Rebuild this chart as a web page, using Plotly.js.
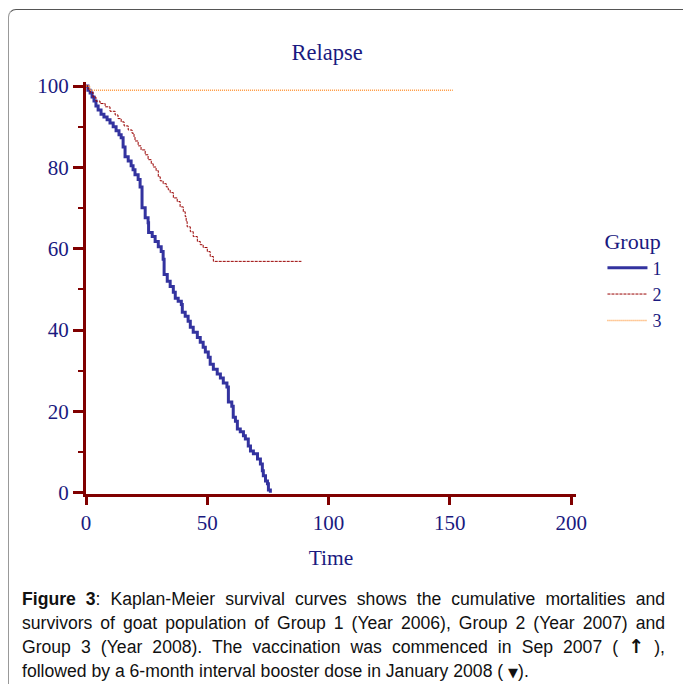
<!DOCTYPE html>
<html>
<head>
<meta charset="utf-8">
<script src="https://cdn.plot.ly/plotly-3.0.1.min.js"></script>
<style>
  html, body { margin: 0; padding: 0; background: #fff; }
  #wrap { position: relative; width: 683px; height: 684px; overflow: hidden; background: #fff; }
  #frame { position: absolute; left: 8px; top: 9px; width: 720px; height: 720px;
           border-top: 1px solid #555; border-left: 1.5px solid #999; border-top-left-radius: 8px; }
  #plot { position: absolute; left: 0; top: 0; width: 683px; height: 684px; }
  #caption { position: absolute; left: 22px; top: 587px; width: 643px;
             font-family: "Liberation Sans", Arial, sans-serif; font-size: 17.6px; color: #111; }
  #caption .ln { height: 24px; line-height: 24px; white-space: nowrap; }
  #caption .j { text-align: justify; text-align-last: justify; }
  .arr { font-family: "DejaVu Sans", sans-serif; font-weight: bold; font-size: 19px; line-height: 10px; }
  .tri { font-family: "DejaVu Sans", sans-serif; font-size: 13px; }
</style>
</head>
<body>
<div id="wrap">
  <div id="frame"></div>
  <div id="plot"></div>
  <div id="caption">
    <div class="ln j"><b>Figure 3</b>: Kaplan-Meier survival curves shows the cumulative mortalities and</div>
    <div class="ln j">survivors of goat population of Group 1 (Year 2006), Group 2 (Year 2007) and</div>
    <div class="ln j">Group 3 (Year 2008). The vaccination was commenced in Sep 2007 ( <span class="arr">&#x2191;</span> ),</div>
    <div class="ln">followed by a 6-month interval booster dose in January 2008 ( <span class="tri">&#x25BC;</span>).</div>
  </div>
</div>
<script>
// Group 1 (step times and survival %)
const g1Time = [0, 0.8, 1.7, 2.5, 3.3, 4.1, 5.0, 6.2, 7.4, 8.7, 9.9, 11.2, 12.4, 13.6, 14.5, 15.3, 16.1, 17.4, 18.6, 19.4, 20.2, 21.5, 22.3, 23.1, 24.4, 25.6, 25.8, 27.3, 28.5, 29.8, 31.0, 31.8, 32.2, 33.5, 34.7, 36.0, 36.8, 38.0, 39.3, 39.7, 40.9, 42.1, 43.0, 44.2, 45.9, 47.1, 48.3, 49.2, 50.4, 51.2, 52.5, 54.1, 55.4, 56.6, 58.1, 58.7, 60.1, 60.7, 61.6, 62.4, 63.6, 64.9, 65.7, 66.9, 67.8, 69.0, 70.7, 71.9, 72.7, 73.1, 74.0, 74.8, 75.2, 76.0];
const g1Surv = [100, 99.0, 98.3, 97.3, 96.3, 95.1, 94.1, 93.1, 92.4, 91.7, 90.9, 90.0, 89.0, 88.0, 87.3, 85.0, 82.6, 81.6, 80.4, 79.4, 78.2, 77.0, 75.2, 70.1, 67.6, 66.4, 64.0, 63.0, 61.8, 60.5, 59.3, 57.4, 53.7, 52.0, 50.7, 49.3, 47.8, 47.1, 46.3, 44.4, 43.4, 42.2, 40.7, 39.5, 38.2, 37.0, 35.8, 34.6, 33.3, 31.6, 30.4, 29.2, 28.2, 27.0, 26.0, 22.3, 21.3, 18.6, 17.6, 15.7, 15.0, 14.0, 13.2, 11.5, 10.3, 9.6, 8.3, 7.1, 5.4, 4.2, 2.9, 2.2, 0.7, 0];

// Group 2
const g2Time = [0, 0.8, 1.7, 2.9, 4.1, 5.8, 7.9, 9.9, 12.0, 13.2, 14.5, 15.7, 17.4, 19.0, 19.8, 20.2, 21.5, 22.7, 24.4, 25.6, 26.9, 27.7, 28.9, 29.8, 30.6, 31.8, 33.1, 33.9, 34.7, 36.0, 37.6, 38.8, 40.1, 40.9, 41.3, 41.7, 43.0, 44.2, 45.9, 47.1, 48.3, 50.0, 51.2, 52.5, 88.8];
const g2Surv = [100, 99.3, 98.5, 97.3, 96.3, 95.7, 94.9, 93.8, 92.9, 92.0, 91.2, 90.2, 89.2, 88.4, 87.5, 86.5, 85.3, 84.3, 83.1, 81.9, 80.9, 80.1, 79.2, 77.7, 76.7, 76.0, 75.2, 74.5, 73.8, 72.5, 71.6, 70.3, 69.1, 67.9, 66.7, 65.4, 64.2, 63.0, 61.8, 61.0, 60.3, 59.3, 58.1, 56.9, 56.9];

// Group 3
const g3Time = [0, 1.5, 151.2];
const g3Surv = [100, 99.0, 99.0];

const groupNames = ["1", "2", "3"];
const xTicks = [0, 50, 100, 150, 200];
const yTicks = [0, 20, 40, 60, 80, 100];

const NAVY = "#1a1a80";
const AXIS = "#800000";
const SERIF = "Liberation Serif, Times New Roman, serif";

const traces = [
  { x: g1Time, y: g1Surv, name: groupNames[0], type: "scatter", mode: "lines",
    line: { shape: "hv", color: "#33339f", width: 3 } },
  { x: g2Time, y: g2Surv, name: groupNames[1], type: "scatter", mode: "lines",
    line: { shape: "hv", color: "#990000", width: 1, dash: "3px,1px" } },
  { x: g3Time, y: g3Surv, name: groupNames[2], type: "scatter", mode: "lines",
    line: { shape: "hv", color: "#ff9a40", width: 1.5, dash: "1px,1px" } }
];

const layout = {
  width: 683, height: 684,
  margin: { l: 86, r: 107, t: 82, b: 190, pad: 0 },
  paper_bgcolor: "rgba(0,0,0,0)",
  plot_bgcolor: "rgba(0,0,0,0)",
  showlegend: true,
  title: { text: "Relapse", x: 0.492, xref: "paper", xanchor: "center", y: 1 - 52/684, yanchor: "middle",
           font: { family: SERIF, size: 22.5, color: NAVY } },
  xaxis: {
    range: [0, 202], tickvals: xTicks, ticktext: xTicks.map(String),
    showgrid: false, zeroline: false, showline: true, linecolor: AXIS, linewidth: 3,
    ticks: "outside", ticklen: 8, tickwidth: 3, tickcolor: AXIS,
    tickfont: { family: SERIF, size: 21, color: NAVY },
    title: { text: "Time", font: { family: SERIF, size: 21.5, color: NAVY }, standoff: 16 }
  },
  yaxis: {
    range: [-0.3, 101], tickvals: yTicks, ticktext: yTicks.map(String),
    showgrid: false, zeroline: false, showline: true, linecolor: AXIS, linewidth: 3,
    ticks: "outside", ticklen: 10, tickwidth: 3, tickcolor: AXIS,
    minor: { dtick: 10, tick0: 0, ticks: "outside", ticklen: 5, tickwidth: 2, tickcolor: AXIS },
    tickfont: { family: SERIF, size: 21, color: NAVY }
  },
  legend: {
    x: 1.054, xanchor: "left", y: 0.663, yanchor: "top",
    bgcolor: "rgba(0,0,0,0)", borderwidth: 0, itemwidth: 40,
    font: { family: SERIF, size: 18, color: NAVY },
    title: { text: "Group", font: { family: SERIF, size: 22, color: NAVY } },
    tracegroupgap: 0
  }
};

Plotly.newPlot("plot", traces, layout, { staticPlot: true, displayModeBar: false });
</script>
</body>
</html>
